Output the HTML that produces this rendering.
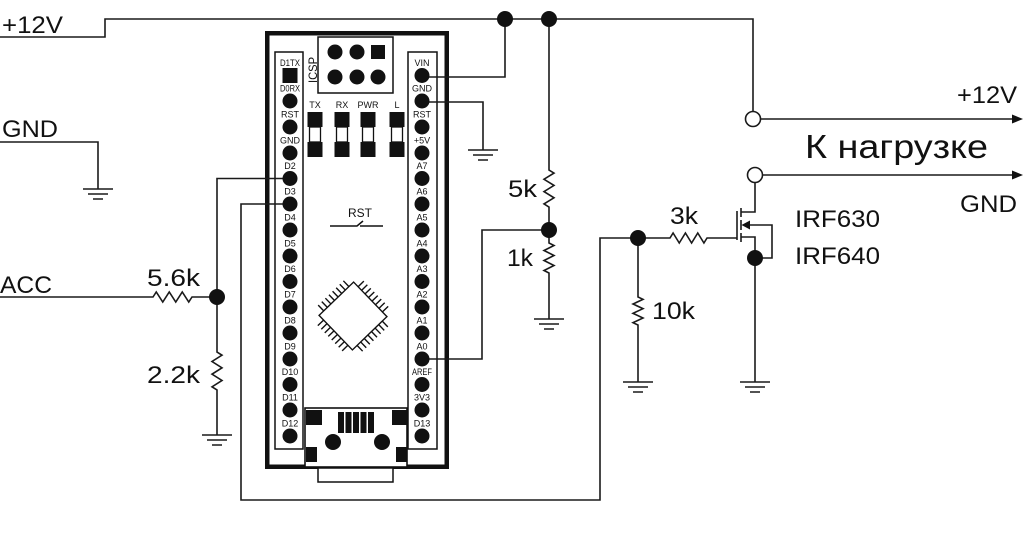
<!DOCTYPE html>
<html><head><meta charset="utf-8">
<style>html,body{margin:0;padding:0;background:#fff;}svg{display:block;}
text{font-family:"Liberation Sans","DejaVu Sans",sans-serif;fill:#111;}
.pl{font-size:9px;}
.big{font-size:24px;}
</style></head>
<body>
<svg width="1024" height="534" viewBox="0 0 1024 534" xmlns="http://www.w3.org/2000/svg">
<rect width="1024" height="534" fill="#fff"/>

<!-- Arduino board -->
<rect x="267.25" y="33.25" width="179.5" height="433.5" fill="#fff" stroke="#111" stroke-width="4.5"/>
<g fill="none" stroke="#111" stroke-width="1.5">
  <rect x="275" y="52" width="28" height="397"/>
  <rect x="408" y="52" width="29" height="397"/>
  <rect x="318" y="37" width="75" height="56"/>
</g>
<!-- ICSP -->
<g fill="#111">
  <circle cx="335" cy="52" r="7.5"/><circle cx="357" cy="52" r="7.5"/>
  <rect x="371" y="45" width="14" height="14"/>
  <circle cx="335" cy="77" r="7.5"/><circle cx="357" cy="77" r="7.5"/><circle cx="378" cy="77" r="7.5"/>
</g>
<text x="0" y="0" font-size="12" transform="translate(317,83) rotate(-90)" textLength="26" lengthAdjust="spacingAndGlyphs">ICSP</text>

<!-- LEDs -->
<g class="pl">
  <text x="315" y="108" text-anchor="middle">TX</text>
  <text x="342" y="108" text-anchor="middle">RX</text>
  <text x="368" y="108" text-anchor="middle">PWR</text>
  <text x="397" y="108" text-anchor="middle">L</text>
</g>
<g>
  <rect x="307.5" y="112" width="15" height="15" fill="#111"/><rect x="309.5" y="127" width="11" height="15" fill="#fff" stroke="#111" stroke-width="1.3"/><rect x="307.5" y="142" width="15" height="15" fill="#111"/>
  <rect x="334.5" y="112" width="15" height="15" fill="#111"/><rect x="336.5" y="127" width="11" height="15" fill="#fff" stroke="#111" stroke-width="1.3"/><rect x="334.5" y="142" width="15" height="15" fill="#111"/>
  <rect x="360.5" y="112" width="15" height="15" fill="#111"/><rect x="362.5" y="127" width="11" height="15" fill="#fff" stroke="#111" stroke-width="1.3"/><rect x="360.5" y="142" width="15" height="15" fill="#111"/>
  <rect x="389.5" y="112" width="15" height="15" fill="#111"/><rect x="391.5" y="127" width="11" height="15" fill="#fff" stroke="#111" stroke-width="1.3"/><rect x="389.5" y="142" width="15" height="15" fill="#111"/>
</g>

<!-- RST switch -->
<text x="360" y="217" font-size="12" text-anchor="middle">RST</text>
<path d="M330,226 H357 L363,221 M360,226 H383" fill="none" stroke="#111" stroke-width="1.5"/>

<!-- Chip -->
<g transform="rotate(46,353,316)" stroke="#111" stroke-width="1.4" fill="none">
  <rect x="329" y="292" width="48" height="48" fill="#fff"/>
  <path d="M335.5,292v-8 M340.5,292v-8 M345.5,292v-8 M350.5,292v-8 M355.5,292v-8 M360.5,292v-8 M365.5,292v-8 M370.5,292v-8
           M335.5,340v8 M340.5,340v8 M345.5,340v8 M350.5,340v8 M355.5,340v8 M360.5,340v8 M365.5,340v8 M370.5,340v8
           M329,298.5h-8 M329,303.5h-8 M329,308.5h-8 M329,313.5h-8 M329,318.5h-8 M329,323.5h-8 M329,328.5h-8 M329,333.5h-8
           M377,298.5h8 M377,303.5h8 M377,308.5h8 M377,313.5h8 M377,318.5h8 M377,323.5h8 M377,328.5h8 M377,333.5h8"/>
</g>

<!-- USB -->
<rect x="318" y="468" width="75" height="14" fill="#fff" stroke="#111" stroke-width="1.5"/>
<rect x="305" y="408" width="102" height="59" fill="#fff" stroke="#111" stroke-width="1.6"/>
<g fill="#111">
  <rect x="306" y="410" width="16" height="15"/><rect x="392" y="410" width="15" height="15"/>
  <rect x="306" y="447" width="11" height="15"/><rect x="396" y="447" width="11" height="15"/>
  <rect x="338" y="412" width="6" height="21"/><rect x="345.5" y="412" width="6" height="21"/><rect x="353" y="412" width="6" height="21"/><rect x="360.5" y="412" width="6" height="21"/><rect x="368" y="412" width="6" height="21"/>
  <circle cx="333" cy="442" r="8"/><circle cx="382" cy="442" r="8"/>
</g>

<!-- Wires -->
<g fill="none" stroke="#1a1a1a" stroke-width="1.6">
  <path d="M0,37 H105 V19 H753 V111.5"/>
  <path d="M505,19 V77 H422"/>
  <path d="M422,102 H483 V150"/>
  <path d="M549,19 V170 l5,3.08 l-10,6.17 l10,6.17 l-10,6.17 l10,6.17 l-10,6.17 l5,3.08 V243 l5,2.5 l-10,5 l10,5 l-10,5 l10,5 l-10,5 l5,2.5 V319"/>
  <path d="M549,230 H482 V359 H422"/>
  <path d="M0,142 H98 V189"/>
  <path d="M0,297 H153 l3.25,-5 l6.5,10 l6.5,-10 l6.5,10 l6.5,-10 l6.5,10 l3.25,-5 H217"/>
  <path d="M290,178.5 H217 V352 l5,3.17 l-10,6.33 l10,6.33 l-10,6.33 l10,6.33 l-10,6.33 l5,3.17 V435"/>
  <path d="M290,204 H241 V500 H600 V238 H670 l3.08,-5 l6.17,10 l6.17,-10 l6.17,10 l6.17,-10 l6.17,10 l3.08,-5 H737"/>
  <path d="M638,238 V297 l5,2.33 l-10,4.67 l10,4.67 l-10,4.67 l10,4.67 l-10,4.67 l5,2.33 V382"/>
  <path d="M760.5,119 H1015"/>
  <path d="M762.5,175 H1015"/>
  <path d="M755,182.5 V212 H741"/>
  <path d="M741,237 H755 V382"/>
  <path d="M748,225 H772 V258 H755"/>
  <path d="M737,211 V240"/>
  <path d="M741,208 V217 M741,220 V230 M741,233 V242"/>
  <!-- grounds -->
  <path d="M83,189h30 M88,194h20 M93,199h10"/>
  <path d="M202,435h30 M207,440h20 M212,445h10"/>
  <path d="M468,150h30 M473,155h20 M478,160h10"/>
  <path d="M534,319h30 M539,324h20 M544,329h10"/>
  <path d="M623,382h30 M628,387h20 M633,392h10"/>
  <path d="M740,382h30 M745,387h20 M750,392h10"/>
</g>
<g fill="#111">
  <polygon points="1023,119 1012,114.5 1012,123.5"/>
  <polygon points="1023,175 1012,170.5 1012,179.5"/>
  <polygon points="741.5,225 750,220.5 750,229.5"/>
  <circle cx="505" cy="19" r="8"/><circle cx="549" cy="19" r="8"/>
  <circle cx="549" cy="230" r="8"/><circle cx="217" cy="297" r="8"/>
  <circle cx="638" cy="238" r="8"/><circle cx="755" cy="258" r="8"/>
</g>
<circle cx="753" cy="119" r="7.5" fill="#fff" stroke="#1a1a1a" stroke-width="1.6"/>
<circle cx="755" cy="175" r="7.5" fill="#fff" stroke="#1a1a1a" stroke-width="1.6"/>

<!-- Left pins -->
<g fill="#111">
  <rect x="282.5" y="68" width="15" height="15"/>
  <circle cx="290" cy="101" r="7.5"/><circle cx="290" cy="127" r="7.5"/><circle cx="290" cy="153" r="7.5"/>
  <circle cx="290" cy="178.5" r="7.5"/><circle cx="290" cy="204" r="7.5"/><circle cx="290" cy="230" r="7.5"/>
  <circle cx="290" cy="256" r="7.5"/><circle cx="290" cy="281.5" r="7.5"/><circle cx="290" cy="307" r="7.5"/>
  <circle cx="290" cy="333" r="7.5"/><circle cx="290" cy="359" r="7.5"/><circle cx="290" cy="384.5" r="7.5"/>
  <circle cx="290" cy="410" r="7.5"/><circle cx="290" cy="436" r="7.5"/>
</g>
<g class="pl" text-anchor="middle">
  <text x="290" y="66" textLength="20" lengthAdjust="spacingAndGlyphs">D1TX</text>
  <text x="290" y="91.5" textLength="20" lengthAdjust="spacingAndGlyphs">D0RX</text>
  <text x="290" y="117.5">RST</text>
  <text x="290" y="143.5">GND</text>
  <text x="290" y="169">D2</text>
  <text x="290" y="194.5">D3</text>
  <text x="290" y="220.5">D4</text>
  <text x="290" y="246.5">D5</text>
  <text x="290" y="272">D6</text>
  <text x="290" y="297.5">D7</text>
  <text x="290" y="323.5">D8</text>
  <text x="290" y="349.5">D9</text>
  <text x="290" y="375">D10</text>
  <text x="290" y="400.5">D11</text>
  <text x="290" y="426.5">D12</text>
</g>

<!-- Right pins -->
<g fill="#111">
  <circle cx="422" cy="75.5" r="7.5"/><circle cx="422" cy="101" r="7.5"/><circle cx="422" cy="127" r="7.5"/>
  <circle cx="422" cy="153" r="7.5"/><circle cx="422" cy="178.5" r="7.5"/><circle cx="422" cy="204" r="7.5"/>
  <circle cx="422" cy="230" r="7.5"/><circle cx="422" cy="256" r="7.5"/><circle cx="422" cy="281.5" r="7.5"/>
  <circle cx="422" cy="307" r="7.5"/><circle cx="422" cy="333" r="7.5"/><circle cx="422" cy="359" r="7.5"/>
  <circle cx="422" cy="384.5" r="7.5"/><circle cx="422" cy="410" r="7.5"/><circle cx="422" cy="436" r="7.5"/>
</g>
<g class="pl" text-anchor="middle">
  <text x="422" y="66">VIN</text>
  <text x="422" y="91.5">GND</text>
  <text x="422" y="117.5">RST</text>
  <text x="422" y="143.5">+5V</text>
  <text x="422" y="169">A7</text>
  <text x="422" y="194.5">A6</text>
  <text x="422" y="220.5">A5</text>
  <text x="422" y="246.5">A4</text>
  <text x="422" y="272">A3</text>
  <text x="422" y="297.5">A2</text>
  <text x="422" y="323.5">A1</text>
  <text x="422" y="349.5">A0</text>
  <text x="422" y="375" textLength="20" lengthAdjust="spacingAndGlyphs">AREF</text>
  <text x="422" y="400.5">3V3</text>
  <text x="422" y="426.5">D13</text>
</g>

<!-- Labels -->
<g class="big">
  <text x="2" y="33" textLength="61" lengthAdjust="spacingAndGlyphs">+12V</text>
  <text x="2" y="137" textLength="56" lengthAdjust="spacingAndGlyphs">GND</text>
  <text x="0" y="293" textLength="52" lengthAdjust="spacingAndGlyphs">ACC</text>
  <text x="147" y="286" textLength="53" lengthAdjust="spacingAndGlyphs">5.6k</text>
  <text x="147" y="383" textLength="53" lengthAdjust="spacingAndGlyphs">2.2k</text>
  <text x="508" y="197" textLength="29" lengthAdjust="spacingAndGlyphs">5k</text>
  <text x="507" y="266" textLength="26" lengthAdjust="spacingAndGlyphs">1k</text>
  <text x="670" y="224" textLength="28" lengthAdjust="spacingAndGlyphs">3k</text>
  <text x="652" y="319" textLength="43" lengthAdjust="spacingAndGlyphs">10k</text>
  <text x="957" y="103" textLength="60" lengthAdjust="spacingAndGlyphs">+12V</text>
  <text x="960" y="212" textLength="57" lengthAdjust="spacingAndGlyphs">GND</text>
  <text x="795" y="227" textLength="85" lengthAdjust="spacingAndGlyphs">IRF630</text>
  <text x="795" y="264" textLength="85" lengthAdjust="spacingAndGlyphs">IRF640</text>
</g>
<text x="805" y="158" font-size="33" textLength="183" lengthAdjust="spacingAndGlyphs">К нагрузке</text>
</svg>
</body></html>
